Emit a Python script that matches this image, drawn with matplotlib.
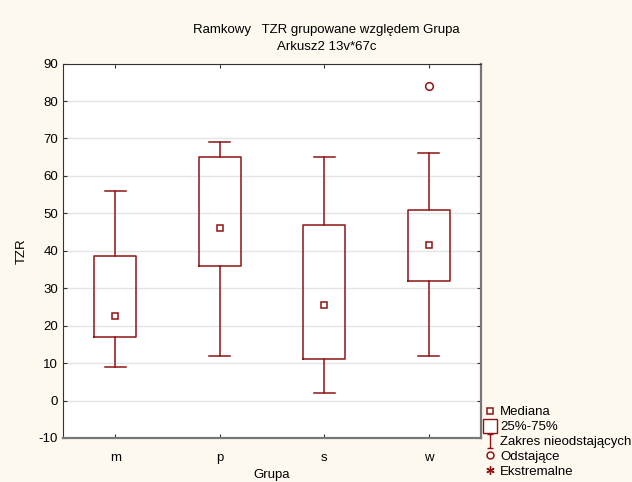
import matplotlib
matplotlib.use("Agg")
import matplotlib.pyplot as plt
from matplotlib.lines import Line2D
from matplotlib.path import Path

plt.rcParams['font.family'] = ['Liberation Sans', 'DejaVu Sans']
plt.rcParams['font.size'] = 9.5
plt.rcParams['axes.unicode_minus'] = False

# data
groups = ['m', 'p', 's', 'w']
whisker_low = [9, 12, 2, 12]
q1 = [17, 36, 11, 32]
median = [22.5, 46, 25.5, 41.5]
q3 = [38.5, 65, 47, 51]
whisker_high = [56, 69, 65, 66]
outliers = [[], [], [], [84]]

red = '#8f1414'
bg = '#fdf9ef'

fig = plt.figure(figsize=(6.32, 4.82), dpi=100, facecolor=bg)
ax = fig.add_axes([0.0997, 0.0913, 0.6617, 0.7767])
ax.set_facecolor('white')

stats = []
for i, g in enumerate(groups):
    stats.append({'label': g, 'whislo': whisker_low[i], 'q1': q1[i], 'med': median[i],
                  'q3': q3[i], 'whishi': whisker_high[i], 'fliers': outliers[i]})

positions = list(range(len(groups)))
ax.bxp(stats, positions=positions, widths=0.4, showfliers=True,
       boxprops=dict(color=red, linewidth=1.1),
       whiskerprops=dict(color=red, linewidth=1.1),
       capprops=dict(color=red, linewidth=1.1),
       capwidths=0.2,
       medianprops=dict(linestyle='none'),
       flierprops=dict(marker='o', markerfacecolor='white', markeredgecolor=red,
                       markersize=5.5, markeredgewidth=1.1))
# median markers
ax.plot(positions, median, linestyle='none', marker='s', markersize=5,
        markerfacecolor='white', markeredgecolor=red, markeredgewidth=1.1, zorder=5)

ax.set_xlim(-0.5, 3.5)
ax.set_ylim(-10, 90)
ax.set_yticks(range(-10, 91, 10))
ax.set_xticks(positions)
ax.set_xticklabels(groups)
ax.yaxis.grid(True, color='#e4e4e4', linewidth=1.0)
ax.set_axisbelow(True)
ax.tick_params(direction='in', top=True, right=True, length=3, color='#333333')
ax.tick_params(axis='x', pad=10)
for s in ['left', 'top']:
    ax.spines[s].set_color('#333333')
for s in ['right', 'bottom']:
    ax.spines[s].set_color('#777777')
    ax.spines[s].set_linewidth(1.6)

ax.set_ylabel('TZR', labelpad=8)
ax.set_xlabel('Grupa', labelpad=4)

fig.text(0.517, 0.938, 'Ramkowy   TZR grupowane względem Grupa', ha='center', va='center')
fig.text(0.517, 0.902, 'Arkusz2 13v*67c', ha='center', va='center')

# legend
ibeam = Path([(-0.5, 1), (0.5, 1), (0, 1), (0, -1), (-0.5, -1), (0.5, -1)],
             [Path.MOVETO, Path.LINETO, Path.MOVETO, Path.LINETO, Path.MOVETO, Path.LINETO])
handles = [
    Line2D([], [], linestyle='none', marker='s', markersize=5, markerfacecolor='white',
           markeredgecolor=red, markeredgewidth=1.1),
    Line2D([], [], linestyle='none', marker='s', markersize=10, markerfacecolor='white',
           markeredgecolor=red, markeredgewidth=1.0),
    Line2D([], [], linestyle='none', marker=ibeam, markersize=10, markerfacecolor='none',
           markeredgecolor=red, markeredgewidth=1.0),
    Line2D([], [], linestyle='none', marker='o', markersize=5, markerfacecolor='white',
           markeredgecolor=red, markeredgewidth=1.1),
    Line2D([], [], linestyle='none', marker=(6, 2, 0), markersize=6, color=red,
           markeredgewidth=1.0),
]
labels = ['Mediana', '25%-75%', 'Zakres nieodstających', 'Odstające', 'Ekstremalne']
fig.legend(handles, labels, loc='upper left', bbox_to_anchor=(0.756, 0.171),
           frameon=False, handlelength=0.8, handletextpad=0.4, labelspacing=0.2,
           borderpad=0, fontsize=9.5)

fig.savefig('out.png', dpi=100, facecolor=bg)
